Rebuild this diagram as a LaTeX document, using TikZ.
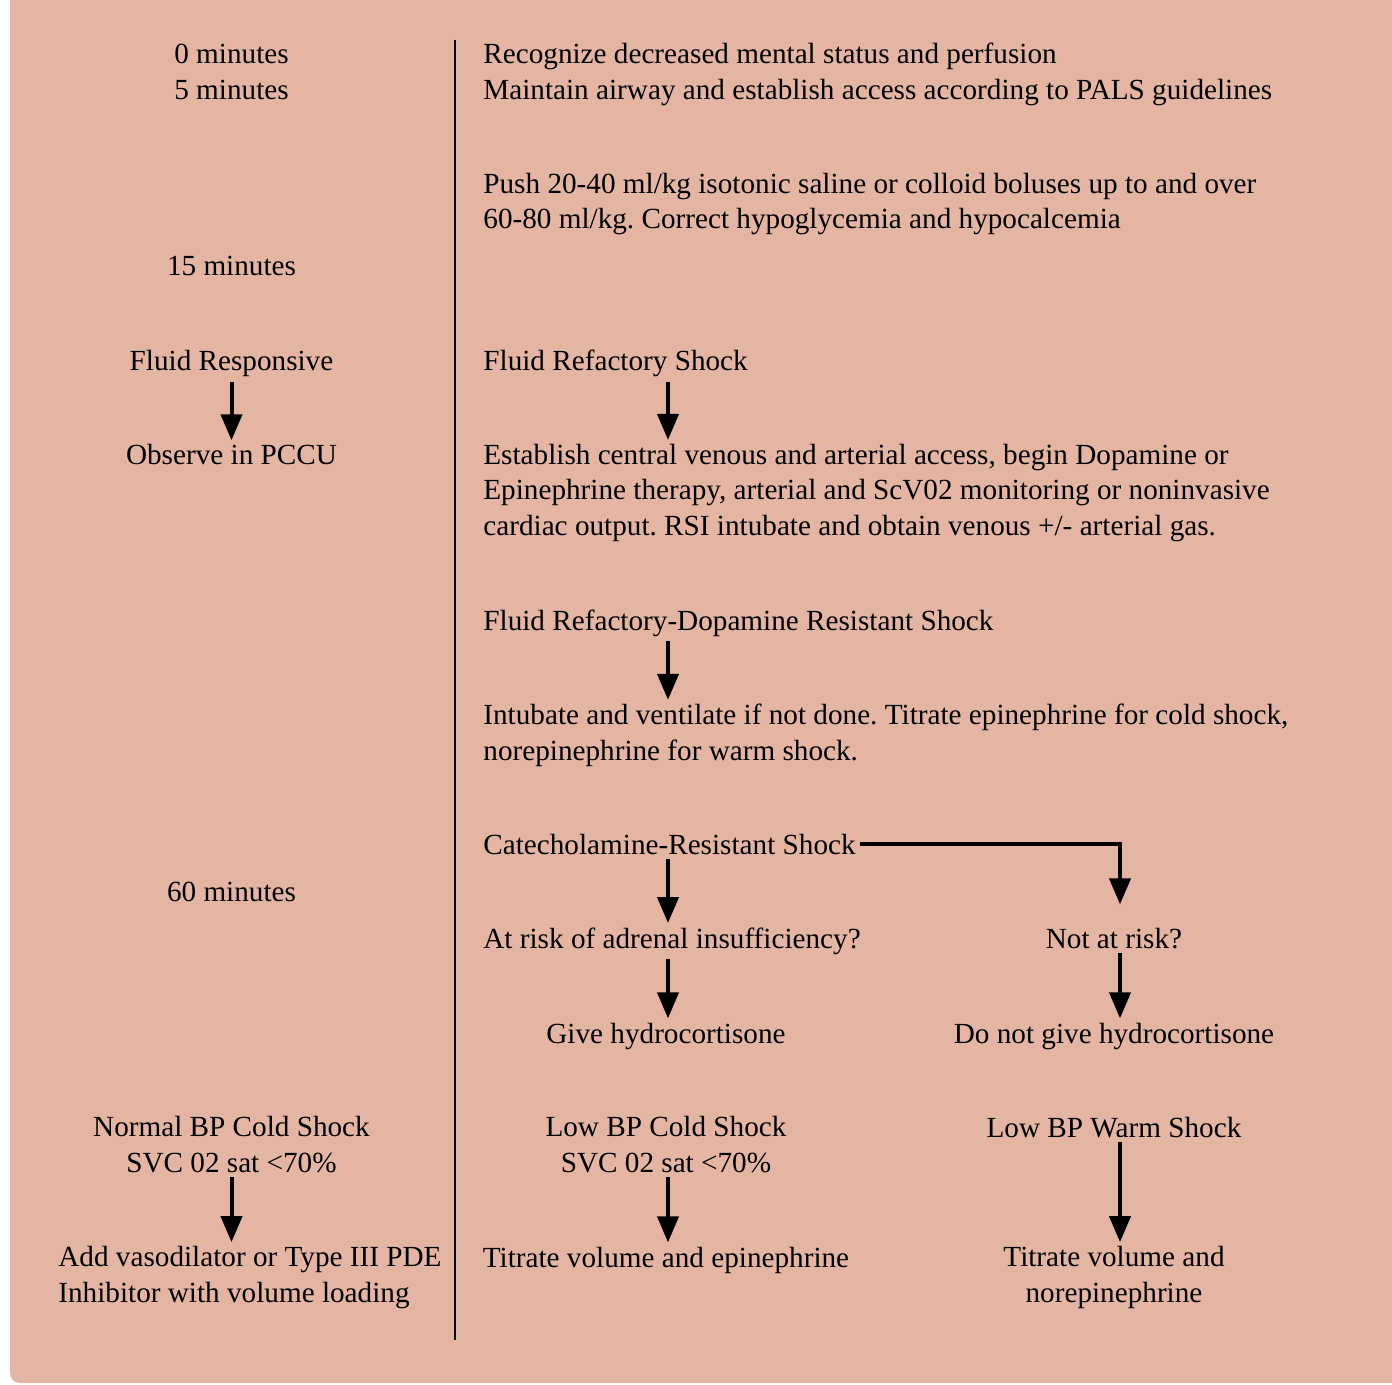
\documentclass[tikz,border=0pt]{standalone}
\usepackage{fontspec}
\setmainfont{Liberation Serif}
\usetikzlibrary{arrows.meta}
\definecolor{salmon}{RGB}{228,181,163}
\frenchspacing

\tikzset{
  txt/.style={inner sep=2pt,font=\fontsize{14.6}{17.6}\selectfont},
  ltxt/.style={txt,align=left,anchor=base west},
  ctxt/.style={txt,align=center,anchor=base},
  arr/.style={line width=2pt,-{Triangle[width=10.5pt,length=13pt]}},
}

\begin{document}
\begin{tikzpicture}[x=0.5pt,y=-0.5pt]
\useasboundingbox (0,0) rectangle (1392,1385);
\fill[salmon,rounded corners=5pt] (10,-40) rectangle (1440,1383);

\coordinate (divtop) at (455,40);
\coordinate (divbot) at (455,1340);
\coordinate (midcol) at (668,0);
\coordinate (rcol) at (1120,0);
\draw[line width=0.6pt] (divtop) -- (divbot);

\node[ctxt] (m0) at (231.5,64) {0 minutes};
\node[ctxt] (m5) at (231.5,100) {5 minutes};
\node[ctxt] (m15) at (231.5,276) {15 minutes};
\node[ctxt] (fresp) at (231.5,371) {Fluid Responsive};
\node[ctxt] (pccu) at (231.5,465) {Observe in PCCU};
\node[ctxt] (m60) at (231.5,901) {60 minutes};
\node[ctxt] (nbpcold) at (231.5,1172) {Normal BP Cold Shock\\SVC 02 sat <70\%};
\node[ltxt] (vasodil) at (54,1302) {Add vasodilator or Type III PDE\\Inhibitor with volume loading};

\node[ltxt] (recog) at (479,64) {Recognize decreased mental status and perfusion};
\node[ltxt] (airway) at (479,100) {Maintain airway and establish access according to PALS guidelines};
\node[ltxt] (push) at (479,229) {Push 20-40 ml/kg isotonic saline or colloid boluses up to and over\\60-80 ml/kg. Correct hypoglycemia and hypocalcemia};
\node[ltxt] (frs) at (479,371) {Fluid Refactory Shock};
\node[ltxt] (central) at (479,535) {Establish central venous and arterial access, begin Dopamine or\\Epinephrine therapy, arterial and ScV02 monitoring or noninvasive\\cardiac output. RSI intubate and obtain venous +/- arterial gas.};
\node[ltxt] (frdrs) at (479,630) {Fluid Refactory-Dopamine Resistant Shock};
\node[ltxt] (intub) at (479,760) {Intubate and ventilate if not done. Titrate epinephrine for cold shock,\\norepinephrine for warm shock.};
\node[ltxt] (crs) at (479,854) {Catecholamine-Resistant Shock};
\node[ltxt] (atrisk) at (479,948) {At risk of adrenal insufficiency?};
\node[ctxt] (givehc) at (666,1043) {Give hydrocortisone};
\node[ctxt] (lbpcold) at (666,1172) {Low BP Cold Shock\\SVC 02 sat <70\%};
\node[ctxt] (titepi) at (666,1267) {Titrate volume and epinephrine};

\node[ctxt] (notrisk) at (1114,948) {Not at risk?};
\node[ctxt] (nogivehc) at (1114,1043) {Do not give hydrocortisone};
\node[ctxt] (lbpwarm) at (1114,1137) {Low BP Warm Shock};
\node[ctxt] (titnor) at (1114,1302) {Titrate volume and\\norepinephrine};

\draw[arr] (fresp.south) -- (pccu.north);
\draw[arr] (frs.south -| midcol) -- (central.north -| midcol);
\draw[arr] (frdrs.south -| midcol) -- (intub.north -| midcol);
\draw[arr] (crs.south -| midcol) -- (atrisk.north -| midcol);
\draw[arr,shorten >=9.5pt] (crs.east) -| (notrisk.north -| rcol);
\draw[arr] (atrisk.south -| midcol) -- (givehc.north -| midcol);
\draw[arr] (notrisk.south -| rcol) -- (nogivehc.north -| rcol);
\draw[arr] (nbpcold.south) -- (nbpcold.south |- vasodil.north);
\draw[arr] (lbpcold.south -| midcol) -- (titepi.north -| midcol);
\draw[arr] (lbpwarm.south -| rcol) -- (titnor.north -| rcol);
\end{tikzpicture}
\end{document}
